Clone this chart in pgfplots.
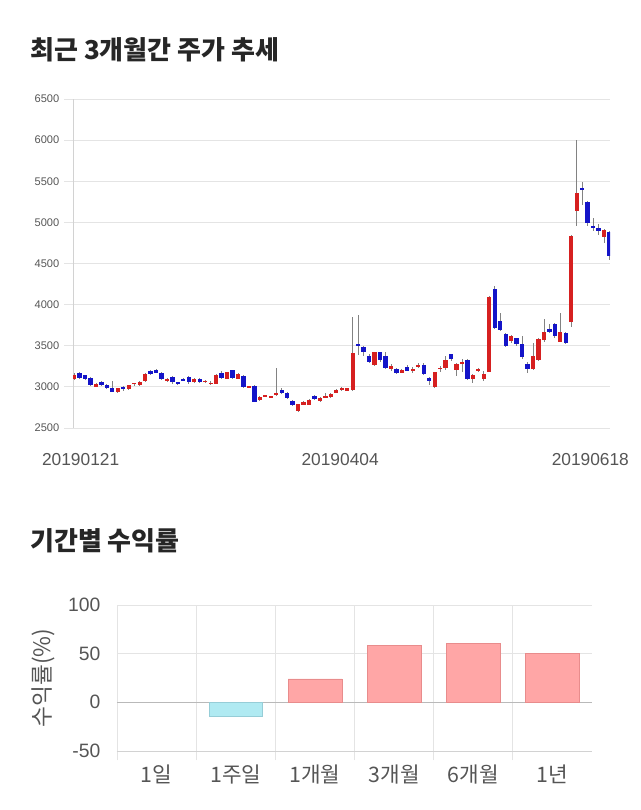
\documentclass[border=0pt]{standalone}
\usepackage{fontspec}
\setmainfont{Liberation Sans}
\newfontfamily\kr{Noto Sans CJK KR}
\usepackage{pgfplots}
\usepackage{pgfplotstable}
\pgfplotsset{compat=1.18}

\definecolor{gridc}{RGB}{228,228,228}
\definecolor{axc}{RGB}{210,210,210}
\definecolor{txtc}{RGB}{85,85,85}
\definecolor{upc}{RGB}{214,32,32}
\definecolor{dnc}{RGB}{20,20,200}
\definecolor{wickc}{RGB}{130,130,130}
\definecolor{posfill}{RGB}{255,166,166}
\definecolor{posdraw}{RGB}{232,140,140}
\definecolor{negfill}{RGB}{176,234,242}
\definecolor{negdraw}{RGB}{150,205,215}
\definecolor{zeroc}{RGB}{185,185,185}

% daily candles: index, open, high, low, close
\pgfplotstableread{
i o h l c
0 3096 3170 3080 3144
1 3165 3175 3095 3104
2 3142 3150 3085 3092
3 3104 3115 3010 3023
4 3002 3045 2995 3035
5 3063 3075 3015 3023
6 3023 3035 2975 2983
7 2983 3071 2935 2941
8 2941 2990 2930 2983
9 3002 3010 2950 2970
10 2970 3025 2960 3019
11 3040 3050 3010 3045
12 3023 3075 3015 3063
13 3071 3165 3065 3158
14 3190 3200 3150 3158
15 3200 3215 3165 3170
16 3165 3175 3085 3096
17 3075 3110 3060 3100
18 3120 3130 3040 3055
19 3055 3065 3020 3030
20 3100 3110 3070 3075
21 3120 3130 3030 3055
22 3055 3110 3045 3100
23 3100 3110 3050 3065
24 3065 3080 3050 3070
25 3040 3070 3020 3048
26 3040 3160 3030 3145
27 3165 3190 3090 3104
28 3096 3185 3090 3175
29 3200 3210 3090 3104
30 3096 3165 3090 3158
31 3137 3150 2990 3000
32 2995 3015 2985 3008
33 3015 3020 2810 2820
34 2840 2890 2830 2880
35 2885 2900 2875 2892
36 2878 2890 2870 2883
37 2898 3226 2890 2922
38 2962 2990 2915 2922
39 2930 2940 2850 2860
40 2832 2840 2770 2780
41 2707 2795 2700 2787
42 2785 2830 2780 2812
43 2785 2850 2775 2840
44 2893 2900 2840 2853
45 2830 2880 2810 2870
46 2870 2930 2860 2890
47 2880 2920 2870 2910
48 2930 2970 2920 2962
49 2965 3000 2955 2990
50 2950 2990 2945 2982
51 2962 3853 2955 3415
52 3521 3874 3387 3500
53 3489 3500 3380 3420
54 3380 3395 3290 3306
55 3266 3430 3255 3420
56 3420 3430 3300 3326
57 3375 3430 3220 3233
58 3213 3280 3190 3254
59 3213 3225 3160 3172
60 3172 3220 3165 3205
61 3245 3260 3190 3197
62 3200 3240 3170 3210
63 3237 3290 3225 3270
64 3270 3285 3140 3152
65 3104 3115 3020 3071
66 3000 3185 2990 3176
67 3220 3250 3180 3230
68 3233 3380 3210 3327
69 3396 3405 3320 3335
70 3200 3285 3130 3275
71 3290 3340 3180 3300
72 3327 3335 3080 3092
73 3096 3160 3050 3145
74 3200 3230 3180 3210
75 3096 3190 3070 3152
76 3185 4110 3175 4096
77 4190 4226 3700 3720
78 3797 3900 3680 3696
79 3640 3655 3490 3500
80 3555 3630 3530 3615
81 3590 3600 3500 3520
82 3520 3620 3340 3360
83 3280 3300 3170 3220
84 3220 3530 3210 3370
85 3327 3600 3320 3582
86 3570 3822 3540 3664
87 3700 3760 3650 3667
88 3760 3775 3600 3622
89 3550 3902 3540 3664
90 3650 3670 3520 3530
91 3792 4850 3732 4834
92 5142 6000 4956 5361
93 5422 5495 5211 5394
94 5251 5260 4960 4996
95 4960 5050 4900 4928
96 4932 4980 4850 4899
97 4826 4920 4750 4907
98 4887 4900 4543 4591
}\candles

\begin{document}
\begin{tikzpicture}
\useasboundingbox (0,0) rectangle (480pt,607.5pt);

\node[anchor=west, inner sep=0pt, font=\kr\bfseries\fontsize{19.5}{22}\selectfont, text=black!85] at (22.5pt,570pt) {최근 3개월간 주가 추세};
\node[anchor=west, inner sep=0pt, font=\kr\bfseries\fontsize{19.5}{22}\selectfont, text=black!85] at (22.5pt,201.75pt) {기간별 수익률};

\begin{axis}[
at={(54.75pt,286.5pt)}, anchor=south west,
scale only axis, width=402.75pt, height=246.75pt,
xmin=-0.2, xmax=98.1, ymin=2500, ymax=6500,
axis x line=bottom, axis y line=left,
x axis line style={-, draw=gridc},
y axis line style={-, draw=axc},
ytick={2500,3000,...,6500},
ymajorgrids, grid style={gridc, line width=0.6pt},
tick align=outside, major tick length=6.75pt,
ytick style={draw=gridc, line width=0.6pt},
xtick={1.2,48.7,94.5},
xticklabels={20190121,20190404,20190618},
xtick style={draw=none},
yticklabel style={font=\fontsize{8.3}{9}\selectfont, text=txtc},
xticklabel style={font=\fontsize{13}{15}\selectfont, text=txtc, yshift=-9pt},
/pgf/number format/assume math mode=true,
/pgf/number format/1000 sep={},
scaled y ticks=false,
]
\addplot[draw=none, mark=none, error bars/.cd, y dir=both, y explicit, error mark=none,
  error bar style={line width=0.6pt, draw=wickc}]
  table[x=i, y expr={(\thisrow{h}+\thisrow{l})/2}, y error expr={(\thisrow{h}-\thisrow{l})/2}] {\candles};
\addplot[draw=none, mark=none, restrict expr to domain={\thisrow{c}-\thisrow{o}}{0:10000},
  error bars/.cd, y dir=both, y explicit, error mark=none,
  error bar style={line width=3.2pt, draw=upc}]
  table[x=i, y expr={(\thisrow{o}+\thisrow{c})/2}, y error expr={max(abs(\thisrow{c}-\thisrow{o})/2,7)}] {\candles};
\addplot[draw=none, mark=none, restrict expr to domain={\thisrow{c}-\thisrow{o}}{-10000:-0.5},
  error bars/.cd, y dir=both, y explicit, error mark=none,
  error bar style={line width=3.2pt, draw=dnc}]
  table[x=i, y expr={(\thisrow{o}+\thisrow{c})/2}, y error expr={max(abs(\thisrow{c}-\thisrow{o})/2,7)}] {\candles};
\end{axis}

\begin{axis}[
at={(87.75pt,44.25pt)}, anchor=south west,
scale only axis, width=356.25pt, height=109.5pt,
xmin=-0.5, xmax=5.5, ymin=-50, ymax=100,
axis x line=bottom, axis y line=left,
x axis line style={-, draw=axc},
y axis line style={-, draw=gridc},
ytick={-50,50,100},
extra y ticks={0},
extra y tick style={grid style={zeroc, line width=0.7pt}},
ymajorgrids, xmajorgrids,
grid style={gridc, line width=0.6pt},
xtick={-0.5,0.5,1.5,2.5,3.5,4.5},
xticklabels={,,,,,},
extra x ticks={0,1,2,3,4,5},
extra x tick labels={1일,1주일,1개월,3개월,6개월,1년},
extra x tick style={grid=none, xtick style={draw=none}},
tick align=outside, major tick length=7pt,
xtick style={draw=gridc, line width=0.6pt},
ytick style={draw=none},
yticklabel style={font=\fontsize{14.5}{16}\selectfont, text=txtc, xshift=-2pt},
xticklabel style={font=\kr\fontsize{16}{18}\selectfont, text=txtc, yshift=0pt},
ylabel={수익률(\%)},
ylabel style={font=\kr\fontsize{17}{19}\selectfont, text=txtc},
ylabel shift=-11pt,
/pgf/number format/assume math mode=true,
]
\addplot[ybar, bar width=0.68, bar shift=0pt, fill=posfill, draw=posdraw]
  coordinates {(2,24) (3,58.5) (4,60.6) (5,50.6)};
\addplot[ybar, bar width=0.68, bar shift=0pt, fill=negfill, draw=negdraw]
  coordinates {(1,-14)};
\end{axis}
\end{tikzpicture}
\end{document}
